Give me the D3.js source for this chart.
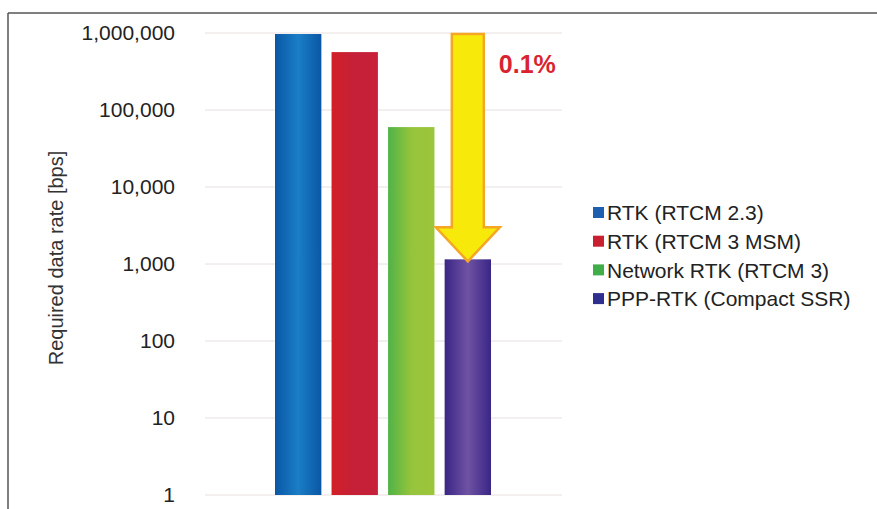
<!DOCTYPE html>
<html lang="en">
<head>
    <meta charset="utf-8">
    <title>Required data rate</title>
    <style>
        body { margin: 0; background: #fff; }
        text { font-family: "Liberation Sans", Arial, sans-serif; }
    </style>
</head>
<body>
<script src="https://cdnjs.cloudflare.com/ajax/libs/d3/7.8.5/d3.min.js"></script>
<script>
    // data
    var categories = ["RTK (RTCM 2.3)", "RTK (RTCM 3 MSM)", "Network RTK (RTCM 3)", "PPP-RTK (Compact SSR)"];
    var rates = [970000, 565000, 60000, 1150];
    var tickValues = [1, 10, 100, 1000, 10000, 100000, 1000000];
    var annotation = "0.1%";

    var legendColors = ["#1f5fb0", "#c8202e", "#3fae49", "#2e2f8f"];
    var gradStops = [
        ["#0a57a5", "#1a7ec6", "#0a57a5"],
        ["#d21f27", "#c42038", "#c8203a"],
        ["#4fb347", "#96c43c", "#9cc63a"],
        ["#3a2686", "#6f52a3", "#3a2686"]
    ];

    var width = 877, height = 509;
    var svg = d3.select("body").append("svg")
        .attr("width", width)
        .attr("height", height);

    var defs = svg.append("defs");
    gradStops.forEach(function(s, i) {
        var g = defs.append("linearGradient")
            .attr("id", "grad" + i)
            .attr("x1", "0%").attr("x2", "100%").attr("y1", "0%").attr("y2", "0%");
        g.append("stop").attr("offset", "0%").attr("stop-color", s[0]);
        g.append("stop").attr("offset", "50%").attr("stop-color", s[1]);
        g.append("stop").attr("offset", "100%").attr("stop-color", s[2]);
    });

    // frame
    svg.append("line").attr("x1", 8).attr("x2", width).attr("y1", 13).attr("y2", 13)
        .attr("stroke", "#555").attr("stroke-width", 1.5);
    svg.append("line").attr("x1", 8).attr("x2", 8).attr("y1", 13).attr("y2", height)
        .attr("stroke", "#555").attr("stroke-width", 1.5);

    var x = d3.scaleBand()
        .domain(categories)
        .range([275, 491])
        .paddingInner(0.18)
        .paddingOuter(0);
    var y = d3.scaleLog()
        .domain([1, 1000000])
        .range([495, 33]);

    var gridLeft = 205, gridRight = 562;

    // gridlines
    svg.append("g").selectAll("line")
        .data(tickValues)
        .enter().append("line")
        .attr("x1", gridLeft).attr("x2", gridRight)
        .attr("y1", function(d) { return y(d); })
        .attr("y2", function(d) { return y(d); })
        .attr("stroke", "#e8e0e0").attr("stroke-width", 1);

    // y axis labels
    var yAxis = svg.append("g")
        .attr("transform", "translate(185,0)")
        .call(d3.axisLeft(y).tickValues(tickValues).tickFormat(d3.format(",")).tickSize(0).tickPadding(10));
    yAxis.select(".domain").remove();
    yAxis.selectAll("text")
        .attr("font-size", 21)
        .attr("font-family", "Liberation Sans, Arial, sans-serif")
        .attr("fill", "#222");

    svg.append("text")
        .attr("transform", "translate(63,258) rotate(-90)")
        .attr("text-anchor", "middle")
        .attr("font-size", 20)
        .attr("fill", "#333")
        .text("Required data rate [bps]");

    // bars
    svg.append("g").selectAll("rect")
        .data(categories)
        .enter().append("rect")
        .attr("x", function(d) { return x(d); })
        .attr("width", x.bandwidth())
        .attr("y", function(d, i) { return y(rates[i]); })
        .attr("height", function(d, i) { return y(1) - y(rates[i]); })
        .attr("fill", function(d, i) { return "url(#grad" + i + ")"; });

    // arrow from the top of the scale down to the last bar
    var last = categories[categories.length - 1];
    var cx = x(last) + x.bandwidth() / 2;
    var topY = y(1000000) + 1, tipY = y(rates[rates.length - 1]) + 2;
    var shaftHalf = 16, headHalf = 32, headLen = 34;
    var pts = [
        [cx - shaftHalf, topY], [cx + shaftHalf, topY], [cx + shaftHalf, tipY - headLen],
        [cx + headHalf, tipY - headLen], [cx, tipY], [cx - headHalf, tipY - headLen],
        [cx - shaftHalf, tipY - headLen]
    ];
    svg.append("path")
        .attr("d", d3.line()(pts) + "Z")
        .attr("fill", "#f7ea0a")
        .attr("stroke", "#f5a623")
        .attr("stroke-width", 2.5)
        .attr("stroke-linejoin", "miter");

    svg.append("text")
        .attr("x", cx + 31)
        .attr("y", 73)
        .attr("font-family", "Open Sans, sans-serif")
        .attr("font-weight", "bold")
        .attr("font-size", 25)
        .attr("fill", "#d9232e")
        .text(annotation);

    // legend
    var legend = svg.append("g").attr("transform", "translate(593,213)");
    var rows = legend.selectAll("g")
        .data(categories)
        .enter().append("g")
        .attr("transform", function(d, i) { return "translate(0," + (i * 28.7) + ")"; });
    rows.append("rect")
        .attr("x", 0).attr("y", -6)
        .attr("width", 11).attr("height", 11)
        .attr("fill", function(d, i) { return legendColors[i]; });
    rows.append("text")
        .attr("x", 14)
        .attr("dy", "0.35em")
        .attr("font-size", 21)
        .attr("fill", "#222")
        .text(function(d) { return d; });
</script>
</body>
</html>
